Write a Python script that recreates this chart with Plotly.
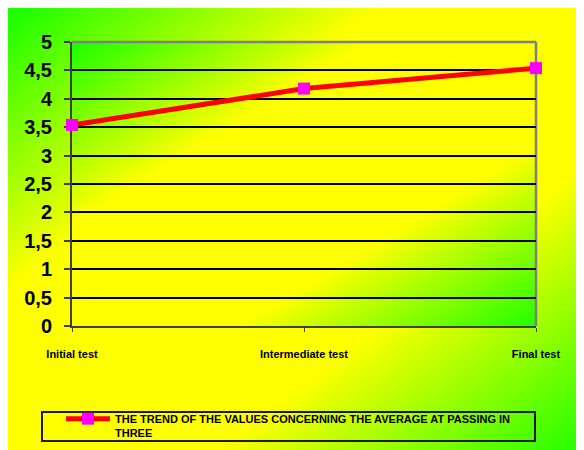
import base64
import plotly.graph_objects as go

# ---- data ----
categories = ["Initial test", "Intermediate test", "Final test"]
values = [3.54, 4.18, 4.54]
series_name = "THE TREND OF THE VALUES CONCERNING THE AVERAGE AT PASSING IN<br>THREE"
y_ticks = [0, 0.5, 1, 1.5, 2, 2.5, 3, 3.5, 4, 4.5, 5]

# ---- layout geometry (figure pixels; page adds an 8px body margin) ----
W, H = 576, 470
VIS_H = 442
L, R, T, B = 64, 48, 34, 152
PW, PH = W - L - R, H - T - B


def px(x):
    return (x - L) / PW


def py(y):
    return (H - B - y) / PH


def grad_svg(c0, c1, c2):
    svg = (
        '<svg xmlns="http://www.w3.org/2000/svg" width="100" height="100" '
        'viewBox="0 0 100 100" preserveAspectRatio="none">'
        '<defs><linearGradient id="g" x1="0" y1="0" x2="1" y2="1">'
        f'<stop offset="0" stop-color="{c0}"/>'
        f'<stop offset="0.32" stop-color="{c1}"/>'
        f'<stop offset="0.68" stop-color="{c1}"/>'
        f'<stop offset="1" stop-color="{c2}"/>'
        '</linearGradient></defs>'
        '<rect x="0" y="0" width="100" height="100" fill="url(#g)"/></svg>'
    )
    return "data:image/svg+xml;base64," + base64.b64encode(svg.encode()).decode()


outer = grad_svg("#14ff00", "#ffff00", "#22ff00")
inner = grad_svg("#1aff00", "#ffff00", "#22ff00")

bold = dict(family="Liberation Sans, Arial, sans-serif", weight="bold", color="#000000")

fig = go.Figure()
fig.add_trace(go.Scatter(
    x=categories, y=values, mode="lines+markers", name=series_name,
    line=dict(color="#ff0000", width=5),
    marker=dict(symbol="square", size=12, color="#ff00ff",
                line=dict(color="#ff00ff", width=0)),
    cliponaxis=False,
))

fig.update_layout(
    width=W, height=H,
    margin=dict(l=L, r=R, t=T, b=B),
    paper_bgcolor="#ffffff",
    plot_bgcolor="rgba(0,0,0,0)",
    separators=",.",
    showlegend=True,
    legend=dict(
        x=px(53), y=py(397), xanchor="left", yanchor="top",
        bgcolor="rgba(0,0,0,0)", borderwidth=0,
        font=dict(size=11, **bold),
        itemwidth=44, valign="top",
        tracegroupgap=0,
    ),
    xaxis=dict(
        type="category", range=[0, 2], showgrid=False,
        showline=True, linecolor="#404040", linewidth=2,
        ticks="outside", ticklen=4, tickcolor="#404040", tickwidth=1,
        tickfont=dict(size=11, **bold), ticklabelstandoff=13,
        layer="below traces", zeroline=False,
    ),
    yaxis=dict(
        range=[0, 5], tickvals=y_ticks, showgrid=True,
        gridcolor="#000000", gridwidth=1.5,
        showline=True, linecolor="#404040", linewidth=2,
        ticks="outside", ticklen=6, tickcolor="#404040", tickwidth=1.5,
        tickfont=dict(size=20, **bold), ticklabelstandoff=8,
        layer="below traces", zeroline=False,
    ),
    images=[
        dict(source=outer, xref="paper", yref="paper",
             x=px(0), y=py(0), sizex=px(W) - px(0), sizey=py(0) - py(VIS_H),
             xanchor="left", yanchor="top", sizing="stretch", layer="below"),
        dict(source=inner, xref="paper", yref="paper",
             x=0, y=1, sizex=1, sizey=1,
             xanchor="left", yanchor="top", sizing="stretch", layer="below"),
    ],
    shapes=[
        # plot-area top border (above the gridline at 5)
        dict(type="line", xref="paper", yref="paper", x0=0, x1=1, y0=1, y1=1,
             line=dict(color="#808080", width=2.5), layer="above"),
        # plot-area right border (beneath the markers)
        dict(type="line", xref="paper", yref="paper", x0=1, x1=1, y0=0, y1=1,
             line=dict(color="#808080", width=2.5), layer="below"),
        # legend frame
        dict(type="rect", xref="paper", yref="paper",
             x0=px(34), x1=px(527), y0=py(433), y1=py(404),
             line=dict(color="#1a1a1a", width=2), fillcolor="rgba(0,0,0,0)"),
    ],
)

fig.write_html("out.html")
